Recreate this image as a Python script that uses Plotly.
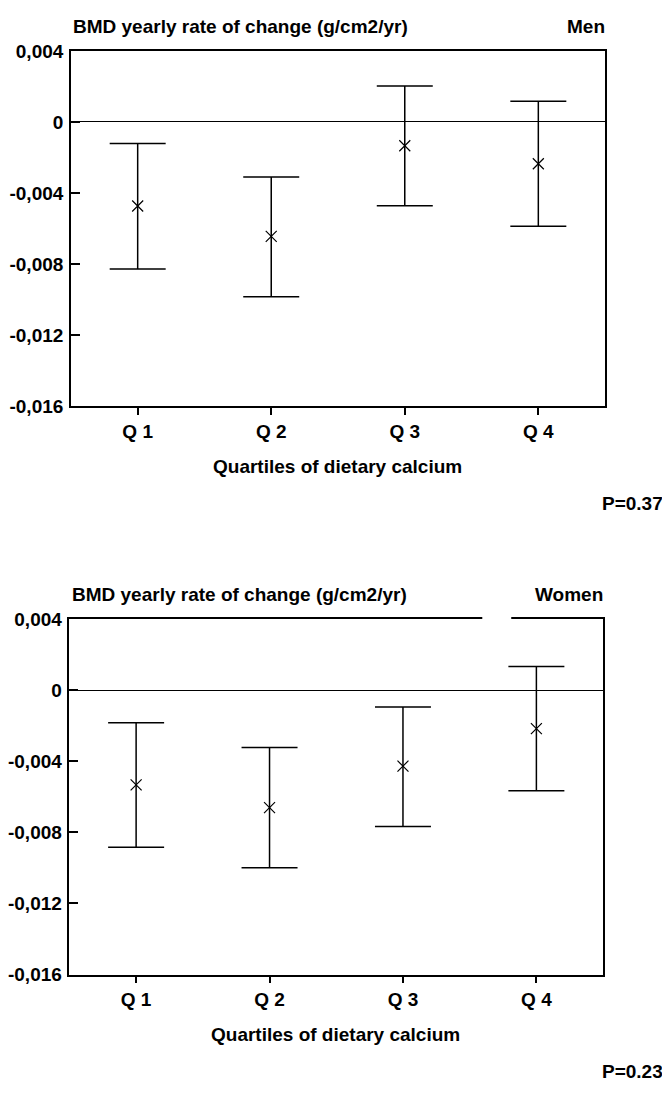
import plotly.graph_objects as go

# ---------------- data ----------------
quartiles = ["Q 1", "Q 2", "Q 3", "Q 4"]

men_mean = [-0.00473, -0.00644, -0.00134, -0.00235]
men_lower = [-0.00827, -0.00983, -0.00471, -0.00587]
men_upper = [-0.00121, -0.00310, 0.00202, 0.00117]

women_mean = [-0.00533, -0.00661, -0.00428, -0.00217]
women_lower = [-0.00884, -0.01000, -0.00768, -0.00566]
women_upper = [-0.00184, -0.00323, -0.00096, 0.00132]

ytick_vals = [0.004, 0, -0.004, -0.008, -0.012, -0.016]
ytick_text = ["0,004", "0", "-0,004", "-0,008", "-0,012", "-0,016"]

panel_labels = ["Men", "Women"]
p_values = ["P=0.37", "P=0.23"]
y_title = "BMD yearly rate of change (g/cm2/yr)"
x_title = "Quartiles of dietary calcium"

# ---------------- layout helpers ----------------
# The page body has an 8px margin, so the figure is drawn 8px in from the
# window's top-left corner; positions below are given in window pixels.
OFF = 8
W, H = 662, 1092
FONT = "Liberation Sans, Arial, Helvetica, sans-serif"
FS = 19


def px_x(v):
    return (v - OFF) / W


def px_y(v):
    return 1 - (v - OFF) / H


panels = [
    dict(mean=men_mean, lo=men_lower, hi=men_upper, x0=70, x1=605, y0=41.5, y1=404,
         label=panel_labels[0], p=p_values[0]),
    dict(mean=women_mean, lo=women_lower, hi=women_upper, x0=68.5, x1=603, y0=620.7, y1=983.3,
         label=panel_labels[1], p=p_values[1]),
]

fig = go.Figure()
annotations = []
shapes = []

for i, pnl in enumerate(panels):
    xa = "x" if i == 0 else "x2"
    ya = "y" if i == 0 else "y2"
    plus = [h - m for h, m in zip(pnl["hi"], pnl["mean"])]
    minus = [m - l for m, l in zip(pnl["mean"], pnl["lo"])]
    fig.add_trace(go.Scatter(
        x=quartiles, y=pnl["mean"], xaxis=xa, yaxis=ya,
        mode="markers",
        marker=dict(symbol="x-thin-open", size=11, color="black",
                    line=dict(color="black", width=1.2)),
        error_y=dict(type="data", symmetric=False, array=plus, arrayminus=minus,
                     color="black", thickness=1.5, width=28),
        showlegend=False,
    ))

    xkey = "xaxis" if i == 0 else "xaxis2"
    ykey = "yaxis" if i == 0 else "yaxis2"
    fig.update_layout(**{
        xkey: dict(
            domain=[px_x(pnl["x0"]), px_x(pnl["x1"])],
            anchor=ya, type="category", range=[-0.5, 3.5],
            showline=True, linecolor="black", linewidth=1.5, mirror=True,
            ticks="outside", ticklen=7, tickwidth=1.5, tickcolor="black",
            showgrid=False, zeroline=False,
            tickfont=dict(family=FONT, size=FS, color="black", weight="bold"),
            fixedrange=True,
        ),
        ykey: dict(
            domain=[px_y(pnl["y1"]), px_y(pnl["y0"])],
            anchor=xa, range=[-0.016, 0.004],
            tickvals=ytick_vals, ticktext=ytick_text,
            showline=True, linecolor="black", linewidth=1.5, mirror=True,
            ticks="inside", ticklen=9, tickwidth=1.5, tickcolor="black",
            showgrid=False, zeroline=True, zerolinecolor="black", zerolinewidth=1.2,
            tickfont=dict(family=FONT, size=FS, color="black", weight="bold"),
            ticklabelstandoff=2,
            fixedrange=True,
        ),
    })

    # texts
    annotations.append(dict(text=y_title, x=px_x(pnl["x0"] + 0.5), y=px_y(pnl["y0"] - 24.5),
                            xref="paper", yref="paper", xanchor="left", yanchor="middle",
                            showarrow=False))
    annotations.append(dict(text=pnl["label"], x=px_x(pnl["x1"] + 2), y=px_y(pnl["y0"] - 24.5),
                            xref="paper", yref="paper", xanchor="right", yanchor="middle",
                            showarrow=False))
    annotations.append(dict(text=x_title, x=px_x((pnl["x0"] + pnl["x1"]) / 2 - 1),
                            y=px_y(pnl["y1"] + 61), xref="paper", yref="paper",
                            xanchor="center", yanchor="middle", showarrow=False))
    annotations.append(dict(text=pnl["p"], x=px_x(665), y=px_y(pnl["y1"] + 99),
                            xref="paper", yref="paper", xanchor="right", yanchor="middle",
                            showarrow=False))

# scan gap in the top border of the lower panel
shapes.append(dict(type="line", xref="paper", yref="paper",
                   x0=px_x(482), x1=px_x(511), y0=px_y(620.7), y1=px_y(620.7),
                   line=dict(color="white", width=4), layer="above"))

fig.update_layout(
    width=W, height=H,
    margin=dict(l=0, r=0, t=0, b=0),
    paper_bgcolor="white", plot_bgcolor="white",
    font=dict(family=FONT, size=FS, color="black", weight="bold"),
    annotations=annotations,
    shapes=shapes,
    showlegend=False,
)

fig.write_html("out.html")
